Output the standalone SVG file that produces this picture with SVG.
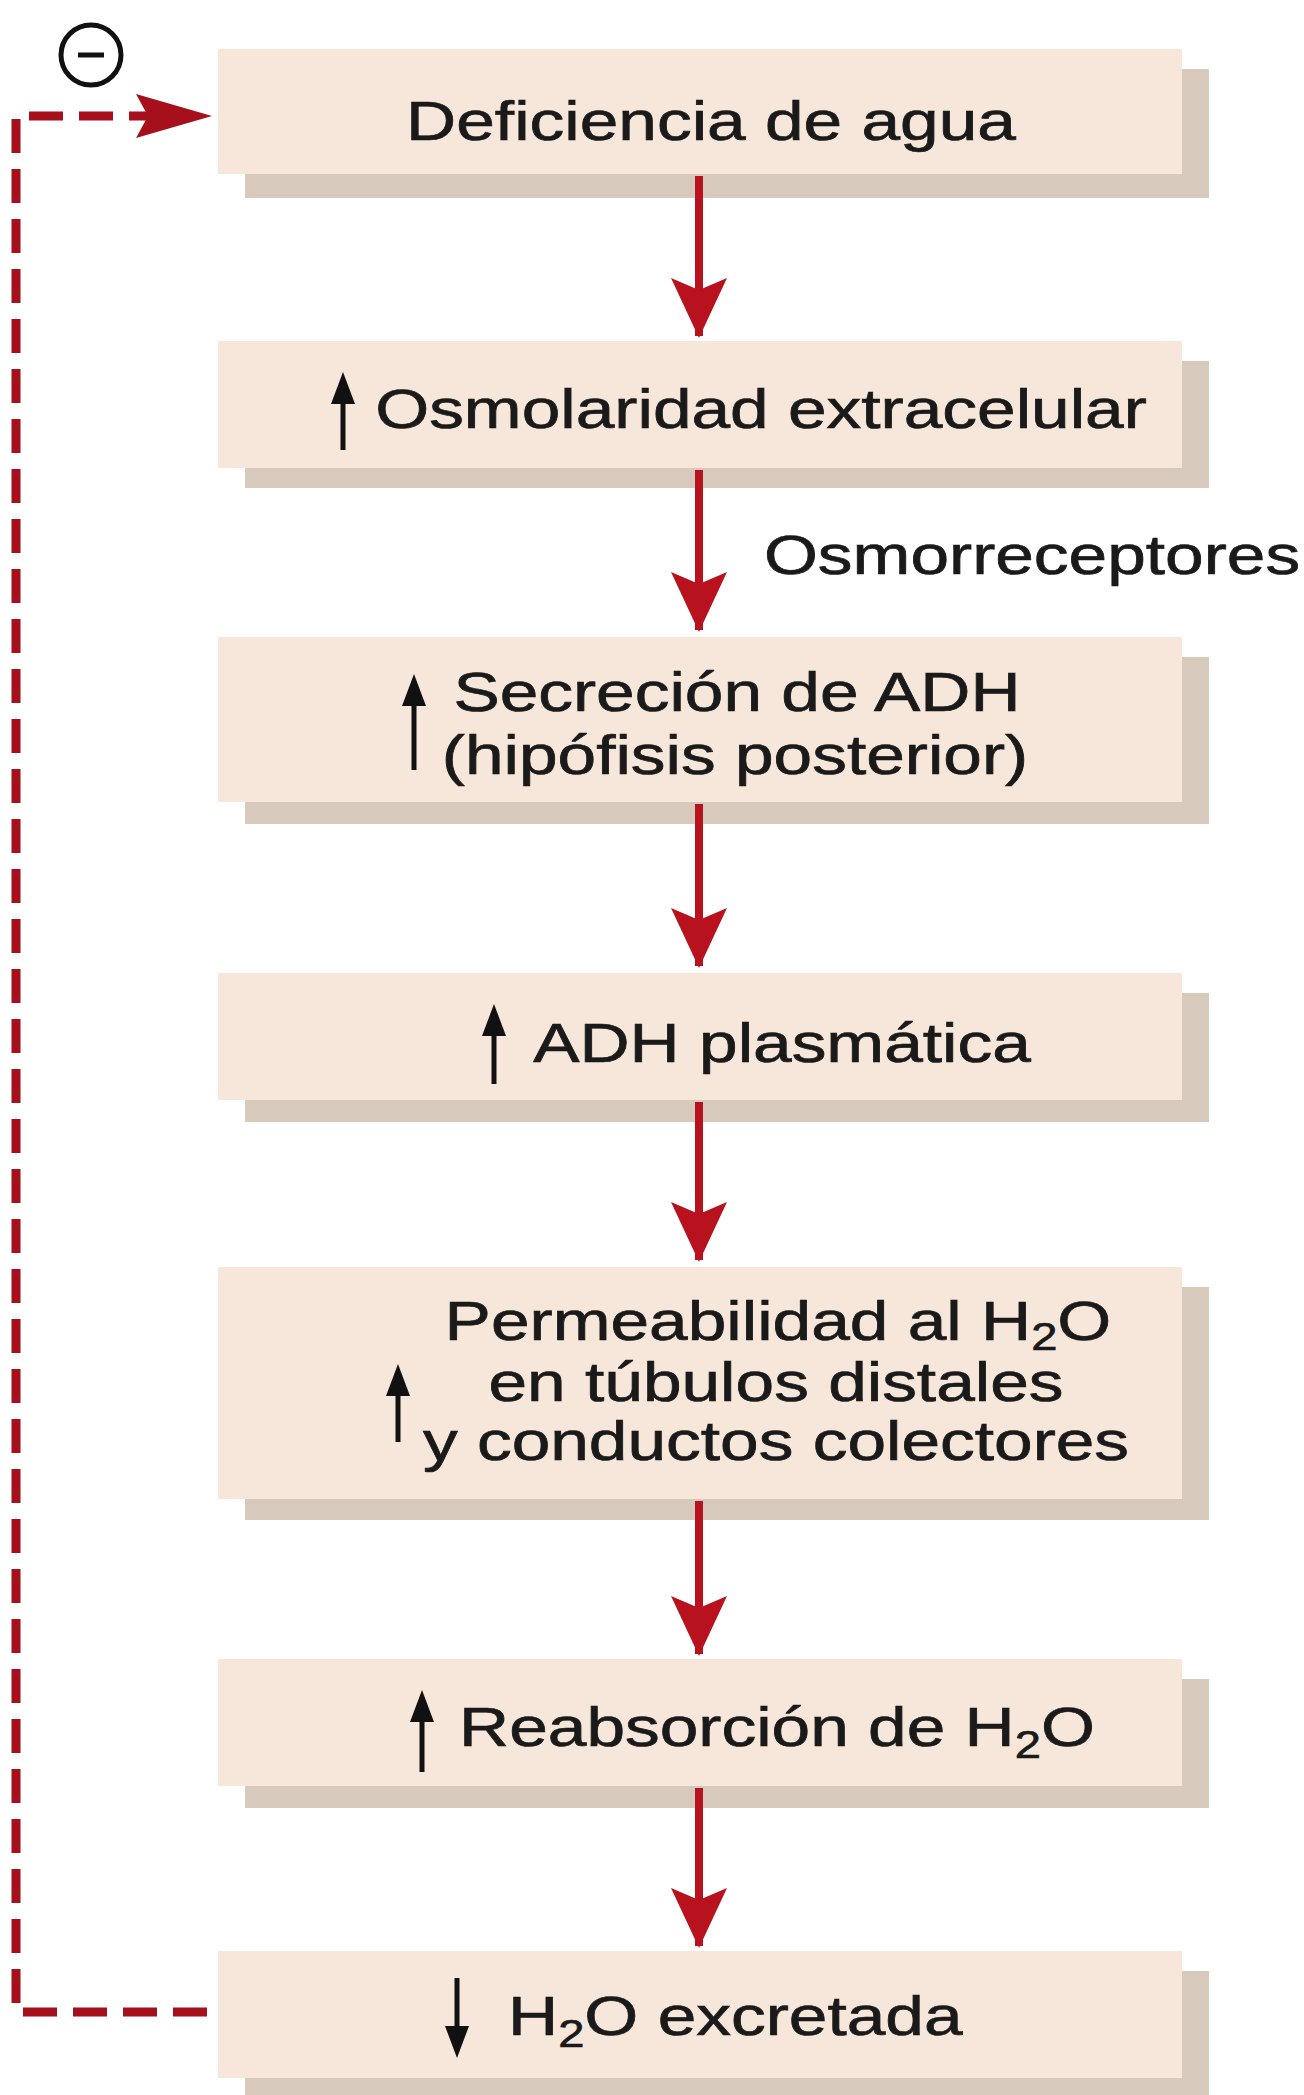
<svg xmlns="http://www.w3.org/2000/svg" width="1304" height="2095" viewBox="0 0 1304 2095">
  <defs>
    <style>
      .shadow { fill: #d7cabd; }
      .box { fill: #f6e7da; }
      .t { font-family: "Liberation Sans", Arial, sans-serif; font-size: 56px; fill: #1a1a1a; stroke: #1a1a1a; stroke-width: 0.7; }
      .sub { font-size: 38px; }
      .conn { stroke: #b8121f; stroke-width: 8; fill: none; }
      .dash { stroke: #a5101c; stroke-width: 9; fill: none; stroke-dasharray: 34 16; }
      .blk { stroke: #111; stroke-width: 5; fill: none; }
    </style>
    <marker id="redHead" markerUnits="userSpaceOnUse" markerWidth="56" markerHeight="60" refX="28" refY="58" orient="0" viewBox="0 0 56 60">
      <path d="M0,0 L28,12 L56,0 L28,60 Z" fill="#b8121f"/>
    </marker>
  </defs>
  <rect width="1304" height="2095" fill="#ffffff"/>

  <g id="minus-sign">
    <circle cx="91" cy="55" r="30" fill="none" stroke="#111" stroke-width="5"/>
    <line x1="78" y1="55" x2="104" y2="55" stroke="#111" stroke-width="5"/>
  </g>

  <g id="node-deficiencia">
    <rect class="shadow" x="245" y="69" width="964" height="129"/>
    <rect class="box" x="218" y="49" width="964" height="125"/>
    <text class="t" transform="translate(711,140) scale(1.24,1)" text-anchor="middle">Deficiencia de agua</text>
  </g>

  <g id="node-osmolaridad">
    <rect class="shadow" x="245" y="361" width="964" height="127"/>
    <rect class="box" x="218" y="341" width="964" height="127"/>
    <line class="blk" x1="343" y1="385" x2="343" y2="450"/>
    <path d="M331,404 L343,372 L355,404 Z" fill="#111"/>
    <text class="t" transform="translate(761,428) scale(1.24,1)" text-anchor="middle">Osmolaridad extracelular</text>
  </g>

  <g id="node-secrecion">
    <rect class="shadow" x="245" y="657" width="964" height="167"/>
    <rect class="box" x="218" y="637" width="964" height="165"/>
    <line class="blk" x1="414" y1="688" x2="414" y2="770"/>
    <path d="M402,706 L414,674 L426,706 Z" fill="#111"/>
    <text class="t" transform="translate(737,711) scale(1.24,1)" text-anchor="middle">Secreción de ADH</text>
    <text class="t" transform="translate(735,774) scale(1.24,1)" text-anchor="middle">(hipófisis posterior)</text>
  </g>

  <g id="node-adh-plasmatica">
    <rect class="shadow" x="245" y="993" width="964" height="129"/>
    <rect class="box" x="218" y="973" width="964" height="127"/>
    <line class="blk" x1="494" y1="1018" x2="494" y2="1084"/>
    <path d="M482,1036 L494,1004 L506,1036 Z" fill="#111"/>
    <text class="t" transform="translate(782,1062) scale(1.24,1)" text-anchor="middle">ADH plasmática</text>
  </g>

  <g id="node-permeabilidad">
    <rect class="shadow" x="245" y="1287" width="964" height="233"/>
    <rect class="box" x="218" y="1267" width="964" height="232"/>
    <line class="blk" x1="398" y1="1378" x2="398" y2="1442"/>
    <path d="M386,1396 L398,1364 L410,1396 Z" fill="#111"/>
    <text class="t" transform="translate(778,1340) scale(1.24,1)" text-anchor="middle">Permeabilidad al H<tspan class="sub" dy="10">2</tspan><tspan dy="-10">O</tspan></text>
    <text class="t" transform="translate(776,1401) scale(1.24,1)" text-anchor="middle">en túbulos distales</text>
    <text class="t" transform="translate(776,1460) scale(1.24,1)" text-anchor="middle">y conductos colectores</text>
  </g>

  <g id="node-reabsorcion">
    <rect class="shadow" x="245" y="1679" width="964" height="129"/>
    <rect class="box" x="218" y="1659" width="964" height="127"/>
    <line class="blk" x1="422" y1="1704" x2="422" y2="1772"/>
    <path d="M410,1722 L422,1690 L434,1722 Z" fill="#111"/>
    <text class="t" transform="translate(777,1746) scale(1.24,1)" text-anchor="middle">Reabsorción de H<tspan class="sub" dy="12">2</tspan><tspan dy="-12">O</tspan></text>
  </g>

  <g id="node-excretada">
    <rect class="shadow" x="245" y="1971" width="964" height="129"/>
    <rect class="box" x="218" y="1951" width="964" height="127"/>
    <line class="blk" x1="457" y1="1978" x2="457" y2="2044"/>
    <path d="M445,2026 L457,2058 L469,2026 Z" fill="#111"/>
    <text class="t" transform="translate(508,2035) scale(1.24,1)">H<tspan class="sub" dy="12">2</tspan><tspan dy="-12">O excretada</tspan></text>
  </g>

  <g id="connectors">
    <line class="conn" x1="699" y1="176" x2="699" y2="336" marker-end="url(#redHead)"/>
    <line class="conn" x1="699" y1="470" x2="699" y2="630" marker-end="url(#redHead)"/>
    <line class="conn" x1="699" y1="804" x2="699" y2="966" marker-end="url(#redHead)"/>
    <line class="conn" x1="699" y1="1102" x2="699" y2="1260" marker-end="url(#redHead)"/>
    <line class="conn" x1="699" y1="1501" x2="699" y2="1654" marker-end="url(#redHead)"/>
    <line class="conn" x1="699" y1="1788" x2="699" y2="1946" marker-end="url(#redHead)"/>
    <path class="dash" d="M207,2012 L16,2012 L16,116 L180,116"/>
    <path d="M136,94 L212,116 L136,138 L148,116 Z" fill="#a5101c"/>
    <text class="t" transform="translate(1032,574) scale(1.24,1)" text-anchor="middle">Osmorreceptores</text>
  </g>
</svg>
